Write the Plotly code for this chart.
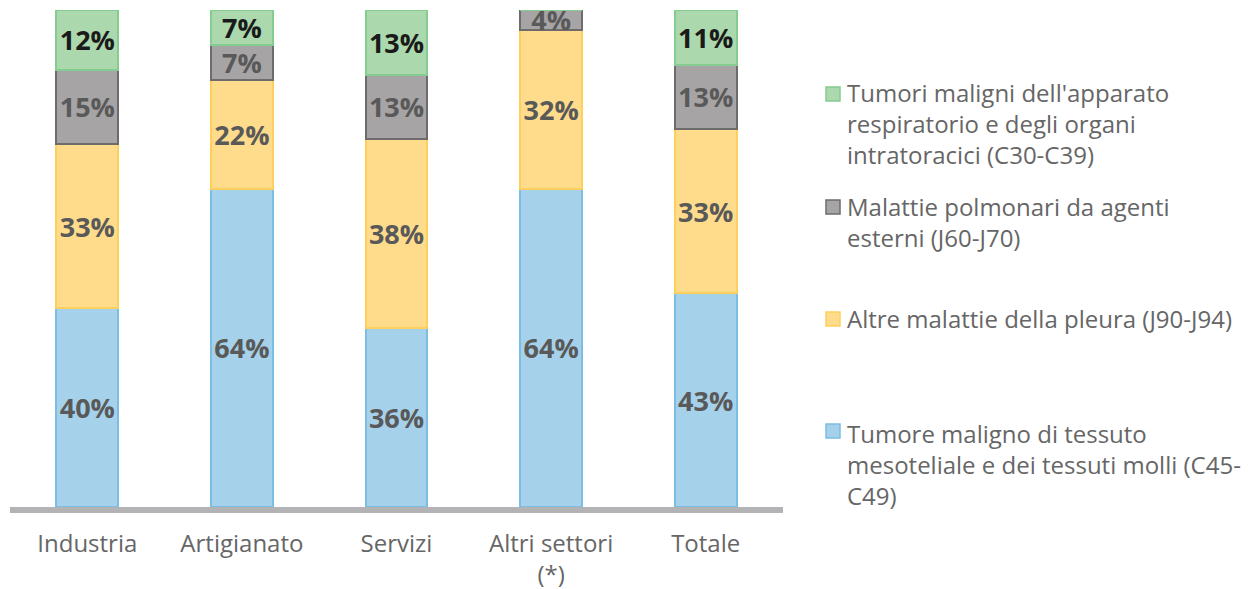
import plotly.graph_objects as go

categories = ["Industria", "Artigianato", "Servizi", "Altri settori<br>(*)", "Totale"]

tumore_mesoteliale = [40, 64, 36, 64, 43]
altre_pleura = [33, 22, 38, 32, 33]
malattie_polmonari = [15, 7, 13, 4, 13]
tumori_respiratorio = [12, 7, 13, 0, 11]

series_names = [
    "Tumore maligno di tessuto<br>mesoteliale e dei tessuti molli (C45-<br>C49)",
    "Altre malattie della pleura (J90-J94)",
    "Malattie polmonari da agenti<br>esterni (J60-J70)",
    "Tumori maligni dell'apparato<br>respiratorio e degli organi<br>intratoracici (C30-C39)",
]
series_values = [tumore_mesoteliale, altre_pleura, malattie_polmonari, tumori_respiratorio]
fills = ["#a6d1ea", "#ffdc8b", "#a6a4a4", "#acd8ad"]
lines = ["#7cbde3", "#ffcf5c", "#6d6b6b", "#84cc8f"]
text_colors = ["#595959", "#595959", "#595959", "#1a1a1a"]

FONT = "Open Sans"

fig = go.Figure()
for name, vals, fc, lc, tc in zip(series_names, series_values, fills, lines, text_colors):
    fig.add_trace(go.Bar(
        x=categories, y=vals, name=name,
        marker=dict(color=fc, line=dict(color=lc, width=2)),
        text=[f"{v}%" if v > 0 else "" for v in vals],
        textposition="inside", insidetextanchor="middle", textangle=0,
        insidetextfont=dict(family=FONT, size=27, color=tc, weight="bold"),
        showlegend=False, cliponaxis=False,
    ))

W, H = 1251, 589
plot_left, plot_right, plot_top, plot_bottom = 10, 783, 10, 507
plot_w = plot_right - plot_left
plot_h = plot_bottom - plot_top

def px(x):
    return (x - plot_left) / plot_w

def py(y):
    return (plot_bottom - y) / plot_h

legend_items = [  # (series index, marker top y, text center y)
    (3, 87, 124),
    (2, 200, 222),
    (1, 312, 318),
    (0, 424, 464),
]
shapes = []
annotations = []
for idx, mtop, tcy in legend_items:
    shapes.append(dict(type="rect", xref="paper", yref="paper",
                       x0=px(826), x1=px(840), y0=py(mtop), y1=py(mtop + 14),
                       fillcolor=fills[idx], line=dict(color=lines[idx], width=1.5)))
    annotations.append(dict(xref="paper", yref="paper", x=px(845), y=py(tcy),
                            xanchor="left", yanchor="middle", align="left",
                            text=series_names[idx], showarrow=False,
                            font=dict(family=FONT, size=24, color="#666666")))

fig.update_layout(
    barmode="stack", bargap=0.6,
    width=W, height=H,
    margin=dict(l=plot_left, r=W - plot_right, t=plot_top, b=H - plot_bottom),
    paper_bgcolor="white", plot_bgcolor="white",
    font=dict(family=FONT, size=24, color="#666666"),
    uniformtext=dict(minsize=27, mode="show"),
    shapes=shapes, annotations=annotations,
    xaxis=dict(showline=True, linecolor="#b3b3b6", linewidth=6, ticks="",
               ticklabelstandoff=10, automargin=False,
               tickfont=dict(family=FONT, size=24, color="#666666"),
               showgrid=False, zeroline=False),
    yaxis=dict(range=[0, 100], visible=False, showgrid=False, zeroline=False,
               automargin=False),
)

fig.write_html(
    "out.html",
    config={"displayModeBar": False},
    post_script="document.body.style.margin='0';document.body.style.overflow='hidden';",
)
